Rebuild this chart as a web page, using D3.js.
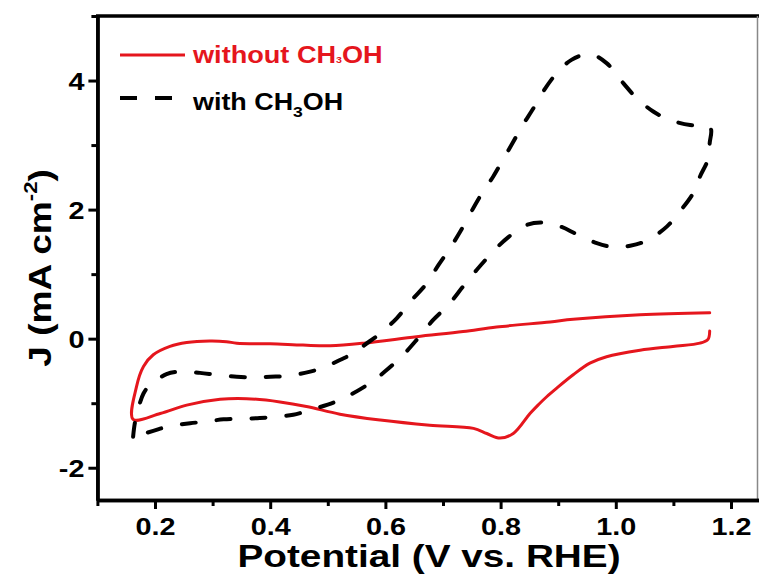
<!DOCTYPE html>
<html>
<head>
<meta charset="utf-8">
<script src="https://cdn.jsdelivr.net/npm/d3@7"></script>
<style>
  html, body { margin: 0; padding: 0; background: #fff; }
  svg { display: block; }
  text { font-family: "Liberation Sans", Arial, sans-serif; font-weight: bold; }
</style>
</head>
<body>
<svg id="chart" width="759" height="579"></svg>
<script>
// Cyclic voltammograms: potential (V vs. RHE), current density J (mA cm^-2)

// without CH3OH — cathodic sweep (1.16 V -> 0.16 V)
const withoutCathodic = [
  [1.163, 0.12], [1.160, -0.01], [1.146, -0.07], [1.099, -0.12], [1.042, -0.18],
  [0.984, -0.28], [0.955, -0.38], [0.926, -0.56], [0.897, -0.77], [0.880, -0.90],
  [0.866, -1.02], [0.851, -1.16], [0.822, -1.47], [0.799, -1.54], [0.776, -1.47],
  [0.753, -1.39], [0.677, -1.34], [0.591, -1.26], [0.521, -1.17], [0.463, -1.05],
  [0.417, -0.98], [0.359, -0.93], [0.313, -0.94], [0.255, -1.03], [0.209, -1.16],
  [0.162, -1.25]
];
// without CH3OH — anodic sweep (0.16 V -> 1.16 V)
const withoutAnodic = [
  [0.162, -1.26], [0.168, -0.74], [0.180, -0.43], [0.197, -0.25], [0.226, -0.12],
  [0.255, -0.06], [0.295, -0.036], [0.324, -0.046], [0.342, -0.07], [0.400, -0.08],
  [0.457, -0.10], [0.504, -0.11], [0.562, -0.07], [0.654, 0.03], [0.735, 0.11],
  [0.793, 0.18], [0.886, 0.26], [0.926, 0.30], [1.042, 0.37], [1.163, 0.40]
];
// with CH3OH — anodic sweep (0.16 V -> 1.16 V)
const withAnodic = [
  [0.162, -1.52], [0.165, -1.31], [0.172, -1.05], [0.180, -0.85], [0.188, -0.75],
  [0.220, -0.55], [0.246, -0.51], [0.278, -0.53], [0.307, -0.56], [0.342, -0.59],
  [0.371, -0.60], [0.400, -0.59], [0.429, -0.58], [0.460, -0.53], [0.489, -0.46],
  [0.521, -0.33], [0.550, -0.20], [0.562, -0.11], [0.591, 0.08], [0.620, 0.32],
  [0.646, 0.60], [0.672, 0.86], [0.692, 1.14], [0.712, 1.40], [0.730, 1.66],
  [0.764, 2.20], [0.787, 2.51], [0.802, 2.74], [0.822, 3.05], [0.837, 3.29],
  [0.857, 3.57], [0.874, 3.83], [0.897, 4.11], [0.923, 4.32], [0.955, 4.41],
  [0.984, 4.27], [1.013, 3.96], [1.036, 3.73], [1.065, 3.52], [1.094, 3.39],
  [1.129, 3.31], [1.155, 3.31], [1.165, 3.25]
];
// with CH3OH — cathodic sweep (1.16 V -> 0.16 V)
const withCathodic = [
  [1.163, 3.03], [1.161, 2.80], [1.146, 2.51], [1.134, 2.25], [1.111, 1.97],
  [1.089, 1.74], [1.054, 1.52], [1.025, 1.44], [0.996, 1.42], [0.967, 1.48],
  [0.932, 1.62], [0.903, 1.74], [0.871, 1.80], [0.845, 1.76], [0.813, 1.57],
  [0.787, 1.35], [0.758, 1.06], [0.735, 0.81], [0.709, 0.52], [0.683, 0.29],
  [0.657, 0.01], [0.631, -0.25], [0.599, -0.51], [0.573, -0.69], [0.539, -0.87],
  [0.510, -0.99], [0.475, -1.09], [0.440, -1.18], [0.411, -1.21], [0.382, -1.23],
  [0.353, -1.24], [0.319, -1.25], [0.284, -1.29], [0.261, -1.31], [0.223, -1.36],
  [0.197, -1.43], [0.162, -1.52]
];

const xMajorTicks = [0.2, 0.4, 0.6, 0.8, 1.0, 1.2];
const xMinorTicks = [0.1, 0.3, 0.5, 0.7, 0.9, 1.1];
const yMajorTicks = [-2, 0, 2, 4];
const yMinorTicks = [-1, 1, 3, 5];
const xTickLabels = ["0.2", "0.4", "0.6", "0.8", "1.0", "1.2"];
const yTickLabels = ["-2", "0", "2", "4"];

const seriesNames = ["without CH", "with CH"];
const RED = "#e5161d";
const STRETCH = 1.2;   // the lettering runs a little wider than the stock face

const svg = d3.select("#chart");
const x = d3.scaleLinear().domain([0.1, 1.25]).range([97.4, 759.8]);
const y = d3.scaleLinear().domain([-2.5, 5]).range([500, 16]);

// frame: top edge and right edge
svg.append("line").attr("x1", 96).attr("x2", 759).attr("y1", 16).attr("y2", 16)
  .attr("stroke", "#000").attr("stroke-width", 3.5);
svg.append("line").attr("x1", 757.5).attr("x2", 757.5).attr("y1", 16).attr("y2", 500)
  .attr("stroke", "#888").attr("stroke-width", 1.5);

// curves
const line = d3.line()
  .x(d => x(d[0])).y(d => y(d[1]))
  .curve(d3.curveCatmullRom.alpha(0.5));

svg.append("path")
  .attr("d", line(withoutCathodic.concat(withoutAnodic.slice(1))))
  .attr("fill", "none").attr("stroke", RED).attr("stroke-width", 3)
  .attr("stroke-linejoin", "round").attr("stroke-linecap", "round");

svg.append("path")
  .attr("d", line(withAnodic.concat(withCathodic)))
  .attr("fill", "none").attr("stroke", "#000").attr("stroke-width", 4)
  .attr("stroke-dasharray", "14,21").attr("stroke-linecap", "round");

// axes
function styleAxis(g) {
  g.select(".domain").attr("stroke", "#000").attr("stroke-width", 3.5);
  g.selectAll(".tick line").attr("stroke", "#000").attr("stroke-width", 3);
}

const xAxisMinor = svg.append("g").attr("transform", "translate(0,500)")
  .call(d3.axisBottom(x).tickValues(xMinorTicks).tickSize(6).tickSizeOuter(0).tickFormat(""));
styleAxis(xAxisMinor);
const xAxis = svg.append("g").attr("transform", "translate(0,500)")
  .call(d3.axisBottom(x).tickValues(xMajorTicks).tickSize(9).tickSizeOuter(0)
    .tickFormat((d, i) => xTickLabels[i]));
styleAxis(xAxis);
xAxis.selectAll(".tick text")
  .attr("y", 35).attr("dy", 0)
  .attr("font-size", 24).attr("fill", "#000")
  .attr("font-family", "'Liberation Sans', Arial, sans-serif").attr("font-weight", "bold")
  .attr("transform", `scale(${STRETCH},1)`);

const yAxisMinor = svg.append("g").attr("transform", "translate(97.4,0)")
  .call(d3.axisLeft(y).tickValues(yMinorTicks).tickSize(6).tickSizeOuter(0).tickFormat(""));
styleAxis(yAxisMinor);
const yAxis = svg.append("g").attr("transform", "translate(97.4,0)")
  .call(d3.axisLeft(y).tickValues(yMajorTicks).tickSize(9).tickSizeOuter(0)
    .tickFormat((d, i) => yTickLabels[i]));
styleAxis(yAxis);
yAxis.selectAll(".tick text")
  .attr("x", -13 / STRETCH).attr("dy", "0.36em")
  .attr("font-size", 24).attr("fill", "#000")
  .attr("font-family", "'Liberation Sans', Arial, sans-serif").attr("font-weight", "bold")
  .attr("transform", `scale(${STRETCH},1)`);

// axis titles
svg.append("text")
  .attr("transform", `translate(429,567) scale(1.25,1)`)
  .attr("text-anchor", "middle").attr("font-size", 31)
  .text("Potential (V vs. RHE)");

const yTitle = svg.append("text")
  .attr("transform", `translate(51,268) rotate(-90) scale(1.16,1)`)
  .attr("text-anchor", "middle").attr("font-size", 32);
yTitle.append("tspan").text("J (mA cm");
yTitle.append("tspan").attr("font-size", 19).attr("dy", -14).text("-2");
yTitle.append("tspan").attr("dy", 14).text(")");

// legend
svg.append("line").attr("x1", 120).attr("x2", 185).attr("y1", 55).attr("y2", 55)
  .attr("stroke", RED).attr("stroke-width", 3);
const leg1 = svg.append("text")
  .attr("transform", `translate(193,63) scale(1.18,1)`)
  .attr("font-size", 23).attr("fill", RED);
leg1.append("tspan").text(seriesNames[0]);
leg1.append("tspan").attr("font-size", 9).text("3");
leg1.append("tspan").text("OH");

svg.append("line").attr("x1", 120).attr("x2", 172).attr("y1", 98).attr("y2", 98)
  .attr("stroke", "#000").attr("stroke-width", 4).attr("stroke-dasharray", "17,18");
const leg2 = svg.append("text")
  .attr("transform", `translate(193,110) scale(1.17,1)`)
  .attr("font-size", 23).attr("fill", "#000");
leg2.append("tspan").text(seriesNames[1]);
leg2.append("tspan").attr("font-size", 15).attr("dy", 7).text("3");
leg2.append("tspan").attr("dy", -7).text("OH");
</script>
</body>
</html>
